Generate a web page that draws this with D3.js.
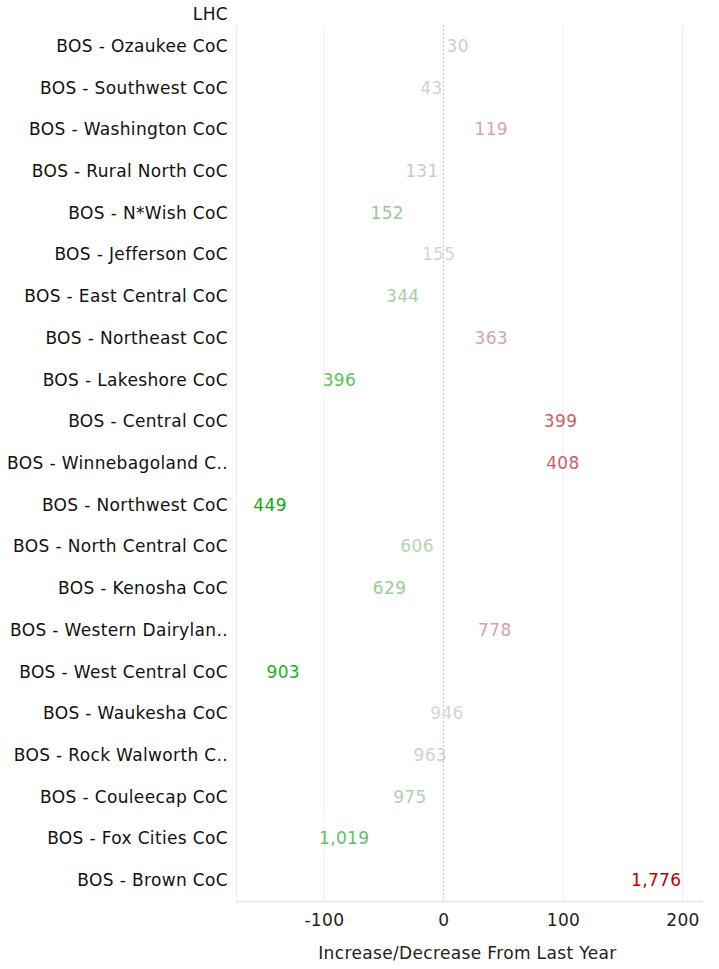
<!DOCTYPE html>
<html>
<head>
<meta charset="utf-8">
<script src="https://cdn.jsdelivr.net/npm/d3@7"></script>
<style>
  body { margin: 0; background: #fff; }
  text { font-family: "DejaVu Sans", Verdana, sans-serif; letter-spacing: 0.35px; }
</style>
</head>
<body>
<svg id="chart"></svg>
<script>
// Data
const header = "LHC";
const categories = [
  "BOS - Ozaukee CoC",
  "BOS - Southwest CoC",
  "BOS - Washington CoC",
  "BOS - Rural North CoC",
  "BOS - N*Wish CoC",
  "BOS - Jefferson CoC",
  "BOS - East Central CoC",
  "BOS - Northeast CoC",
  "BOS - Lakeshore CoC",
  "BOS - Central CoC",
  "BOS - Winnebagoland C..",
  "BOS - Northwest CoC",
  "BOS - North Central CoC",
  "BOS - Kenosha CoC",
  "BOS - Western Dairylan..",
  "BOS - West Central CoC",
  "BOS - Waukesha CoC",
  "BOS - Rock Walworth C..",
  "BOS - Couleecap CoC",
  "BOS - Fox Cities CoC",
  "BOS - Brown CoC"
];
const totals = [30, 43, 119, 131, 152, 155, 344, 363, 396, 399, 408, 449, 606, 629, 778, 903, 946, 963, 975, 1019, 1776];
const changes = [12, -10, 40, -18, -47, -4, -34, 40, -87, 98, 100, -145, -22, -45, 43, -134, 3, -11, -28, -83, 178];
const xTicks = [-100, 0, 100, 200];
const xTitle = "Increase/Decrease From Last Year";

const data = categories.map((c, i) => ({ name: c, total: totals[i], change: changes[i] }));

// Dimensions
const width = 719;
const height = 969;
const plot = { left: 236, right: 702, top: 25, bottom: 901 };

const svg = d3.select("#chart").attr("width", width).attr("height", height);

// Scales
const xScale = d3.scaleLinear().domain([-173.5, 216.3]).range([plot.left, plot.right]);
const yScale = d3.scaleBand().domain(categories).range([plot.top, plot.bottom]);

const color = d3
  .scaleLinear()
  .domain([-145, 0, 178])
  .range(["#0aae0a", "#d8d8d8", "#c00000"])
  .interpolate(d3.interpolateRgb);

// Gridlines
svg
  .append("g")
  .selectAll("line")
  .data(xTicks.filter((t) => t !== 0))
  .join("line")
  .attr("x1", (d) => xScale(d))
  .attr("x2", (d) => xScale(d))
  .attr("y1", plot.top)
  .attr("y2", plot.bottom)
  .attr("stroke", "#ececec")
  .attr("stroke-width", 1);

// Left pane border
svg
  .append("line")
  .attr("x1", plot.left + 0.5)
  .attr("x2", plot.left + 0.5)
  .attr("y1", plot.top)
  .attr("y2", plot.bottom)
  .attr("stroke", "#ececec");

// Zero line
svg
  .append("line")
  .attr("x1", xScale(0))
  .attr("x2", xScale(0))
  .attr("y1", plot.top)
  .attr("y2", plot.bottom)
  .attr("stroke", "#c4c4c4")
  .attr("stroke-dasharray", "2,2");

// X axis
const xAxis = d3.axisBottom(xScale).tickValues(xTicks).tickSize(0).tickPadding(13).tickFormat((d) => String(d));
const gx = svg
  .append("g")
  .attr("transform", `translate(0, ${plot.bottom})`)
  .call(xAxis);
gx.select(".domain").attr("stroke", "#ececec").attr("stroke-width", 2);
gx.selectAll("text").attr("font-size", 17).attr("fill", "#222").style("font-family", '"DejaVu Sans", Verdana, sans-serif');

svg
  .append("text")
  .attr("x", xScale(0) + 24)
  .attr("y", 959)
  .attr("text-anchor", "middle")
  .attr("font-size", 17)
  .attr("fill", "#222")
  .text(xTitle);

// Y axis labels
svg
  .append("g")
  .selectAll("text")
  .data(categories)
  .join("text")
  .attr("x", 228)
  .attr("y", (d) => yScale(d) + yScale.bandwidth() / 2)
  .attr("dy", "0.35em")
  .attr("text-anchor", "end")
  .attr("font-size", 17)
  .attr("fill", "#111")
  .text((d) => d);

svg
  .append("text")
  .attr("x", 228)
  .attr("y", 14)
  .attr("dy", "0.35em")
  .attr("text-anchor", "end")
  .attr("font-size", 17)
  .attr("fill", "#111")
  .text(header);

// Text marks
svg
  .append("g")
  .selectAll("text")
  .data(data)
  .join("text")
  .attr("x", (d) => xScale(d.change))
  .attr("y", (d) => yScale(d.name) + yScale.bandwidth() / 2)
  .attr("dy", "0.35em")
  .attr("text-anchor", "middle")
  .attr("font-size", 17)
  .attr("fill", (d) => color(d.change))
  .text((d) => d3.format(",")(d.total));
</script>
</body>
</html>
